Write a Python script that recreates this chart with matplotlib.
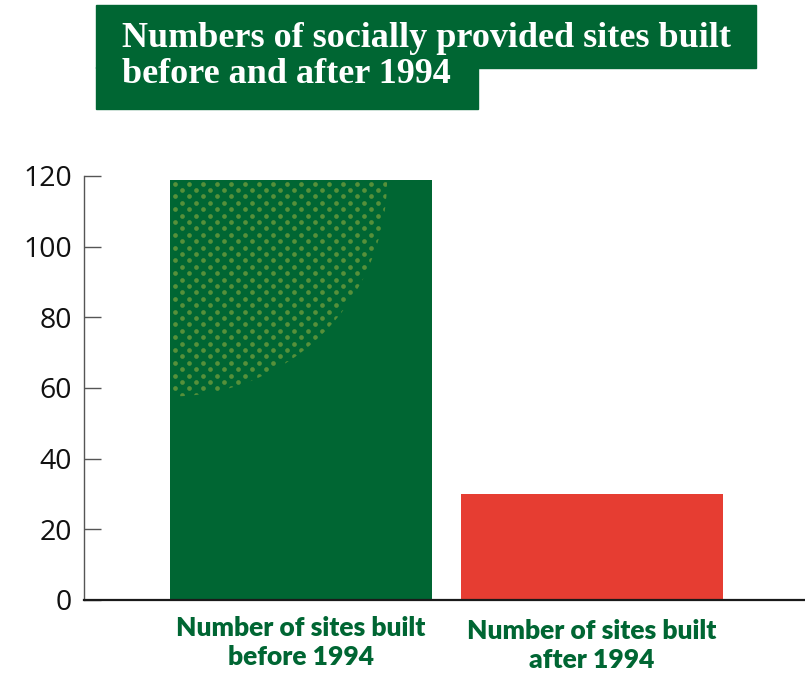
import matplotlib
matplotlib.use('Agg')
import matplotlib.pyplot as plt
import matplotlib.transforms as mtransforms
from matplotlib.patches import Rectangle, Ellipse
import numpy as np

# ---- data ----
cat_line1 = ["Number of sites built", "Number of sites built"]
cat_line2 = ["before 1994", "after 1994"]
values = [119, 30]
yticks = [0, 20, 40, 60, 80, 100, 120]
title_lines = ["Numbers of socially provided sites built", "before and after 1994"]

GREEN = '#006633'
RED = '#E63D32'
DOT = '#56903A'

W, H = 805, 673
fig = plt.figure(figsize=(W / 100, H / 100), dpi=100)
ax = fig.add_axes([84 / W, 73 / H, 721 / W, 424 / H])

bar_w = 0.9
pos = np.arange(len(values))
ax.bar(pos, values, width=bar_w, color=[GREEN, RED], zorder=2, linewidth=0)
ax.set_xlim(-0.7457, 1.732)
ax.set_ylim(0, 120)

# axes styling
for s in ['top', 'right']:
    ax.spines[s].set_visible(False)
ax.spines['left'].set_color('#555555')
ax.spines['left'].set_linewidth(1.0)
ax.spines['bottom'].set_color('#1a1a1a')
ax.spines['bottom'].set_linewidth(1.6)
ax.spines['bottom'].set_zorder(3)
ax.set_xticks([])
ax.set_yticks(yticks)
ax.set_yticklabels([str(v) for v in yticks], fontfamily='Open Sans', fontsize=20.5, color='#111111')
ax.tick_params(axis='y', direction='in', length=12.2, width=1.0, color='#555555', pad=8.6)

# ---- dotted texture on the first bar (decorative pattern) ----
px_x = 291.0            # pixels per data unit in x
px_y = 424.0 / 120.0    # pixels per data unit in y
left0 = pos[0] - bar_w / 2
top0 = values[0]
radius = 217.0
pts_x, pts_y = [], []
for j in range(0, 70):
    oy = 4 + 6.4 * j
    shift = 5 if j % 2 == 0 else 12
    for k in range(0, 20):
        ox = shift + 14 * k
        if ox < 262 and oy < top0 * px_y and (ox ** 2 + oy ** 2) < (radius + 4) ** 2:
            pts_x.append(left0 + ox / px_x)
            pts_y.append(top0 - oy / px_y)
clip = Ellipse((left0, top0), 2 * radius / px_x, 2 * radius / px_y, transform=ax.transData)
sc = ax.scatter(pts_x, pts_y, s=11.5, color=DOT, linewidths=0, zorder=2.5)
sc.set_clip_path(clip)

# ---- category labels ----
blend = mtransforms.blended_transform_factory(ax.transData, fig.transFigure)
ys1 = [628, 631]
ys2 = [657, 660]
lab_texts = []
for i in range(len(values)):
    t1 = ax.text(pos[i], 1 - ys1[i] / H, cat_line1[i], transform=blend, ha='center', va='center',
                 fontfamily='Lato', fontweight='heavy', fontsize=18, color=GREEN)
    t2 = ax.text(pos[i], 1 - ys2[i] / H, cat_line2[i], transform=blend, ha='center', va='center',
                 fontfamily='Lato', fontweight='heavy', fontsize=18, color=GREEN)
    lab_texts += [t1, t2]

# ---- title boxes ----
fig.add_artist(Rectangle((96 / W, 1 - 68 / H), (756 - 96) / W, (68 - 5) / H,
                         transform=fig.transFigure, color=GREEN, zorder=0))
fig.add_artist(Rectangle((96 / W, 1 - 109 / H), (478 - 96) / W, (109 - 67) / H,
                         transform=fig.transFigure, color=GREEN, zorder=0))
tt1 = fig.text(122 / W, 1 - 47 / H, title_lines[0], ha='left', va='baseline', color='white',
               fontfamily='Liberation Serif', fontweight='bold', fontsize=22, zorder=5)
tt2 = fig.text(122 / W, 1 - 83 / H, title_lines[1], ha='left', va='baseline', color='white',
               fontfamily='Liberation Serif', fontweight='bold', fontsize=22, zorder=5)

# fit font sizes to the reference widths
fig.canvas.draw()
r = fig.canvas.get_renderer()
w = tt1.get_window_extent(r).width
fs = 22 * 609 / w
tt1.set_fontsize(fs)
tt2.set_fontsize(fs)
w = lab_texts[0].get_window_extent(r).width
fs2 = 18 * 250 / w
for t in lab_texts:
    t.set_fontsize(fs2)

fig.savefig('out.png', dpi=100)
